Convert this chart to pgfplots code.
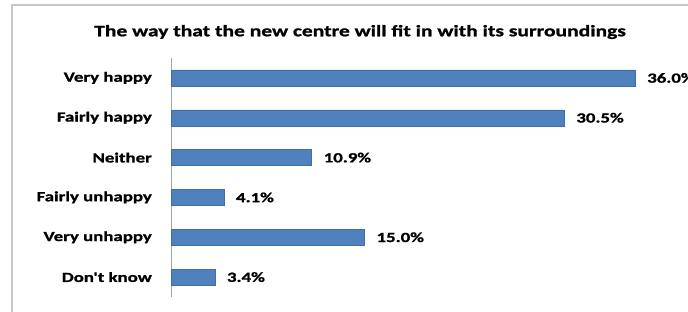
\documentclass[border=0pt]{standalone}
\usepackage{pgfplots}
\pgfplotsset{compat=1.18}
\usepackage{fontspec}
\setmainfont{Carlito}
\newfontfamily\lab[FakeStretch=1.35, FakeBold=1.2]{Carlito Bold}
\definecolor{barblue}{HTML}{4F81BD}
\begin{document}
\begin{tikzpicture}[x=1bp,y=1bp]
\useasboundingbox (0,0) rectangle (688,311);
\clip (0,0) rectangle (688,311);
\draw[black!22, line width=1.2bp] (12,-20) rectangle (720,306);
\node[font=\lab\fontsize{16}{18}\selectfont, inner sep=0pt] at (360,279) {The way that the new centre will fit in with its surroundings};
\begin{axis}[
  at={(171bp,14bp)}, anchor=south west,
  scale only axis, width=515.6bp, height=239bp,
  xbar, bar width=16bp,
  xmin=0, xmax=40, ymin=-0.5, ymax=5.5, y dir=reverse,
  ytick={0,...,5},
  yticklabels={Very happy, Fairly happy, Neither, Fairly unhappy, Very unhappy, Don't know},
  axis x line=none, axis y line=left,
  y axis line style={-, draw=black!35, line width=0.8bp},
  major tick length=0pt, ytick style={draw=none},
  yticklabel style={font=\lab\fontsize{14}{16}\selectfont, inner sep=0pt, xshift=-19bp},
  nodes near coords={\pgfmathprintnumber[fixed,fixed zerofill,precision=1,assume math mode=true]{\pgfplotspointmeta}\%},
  every node near coord/.append style={font=\lab\fontsize{14}{16}\selectfont, anchor=west, inner sep=0pt, xshift=12bp, text=black},
  clip=false,
]
\addplot[fill=barblue, draw=barblue!85!black, line width=0.4bp] coordinates {(36.0,0) (30.5,1) (10.9,2) (4.1,3) (15.0,4) (3.4,5)};
\end{axis}
\end{tikzpicture}
\end{document}
